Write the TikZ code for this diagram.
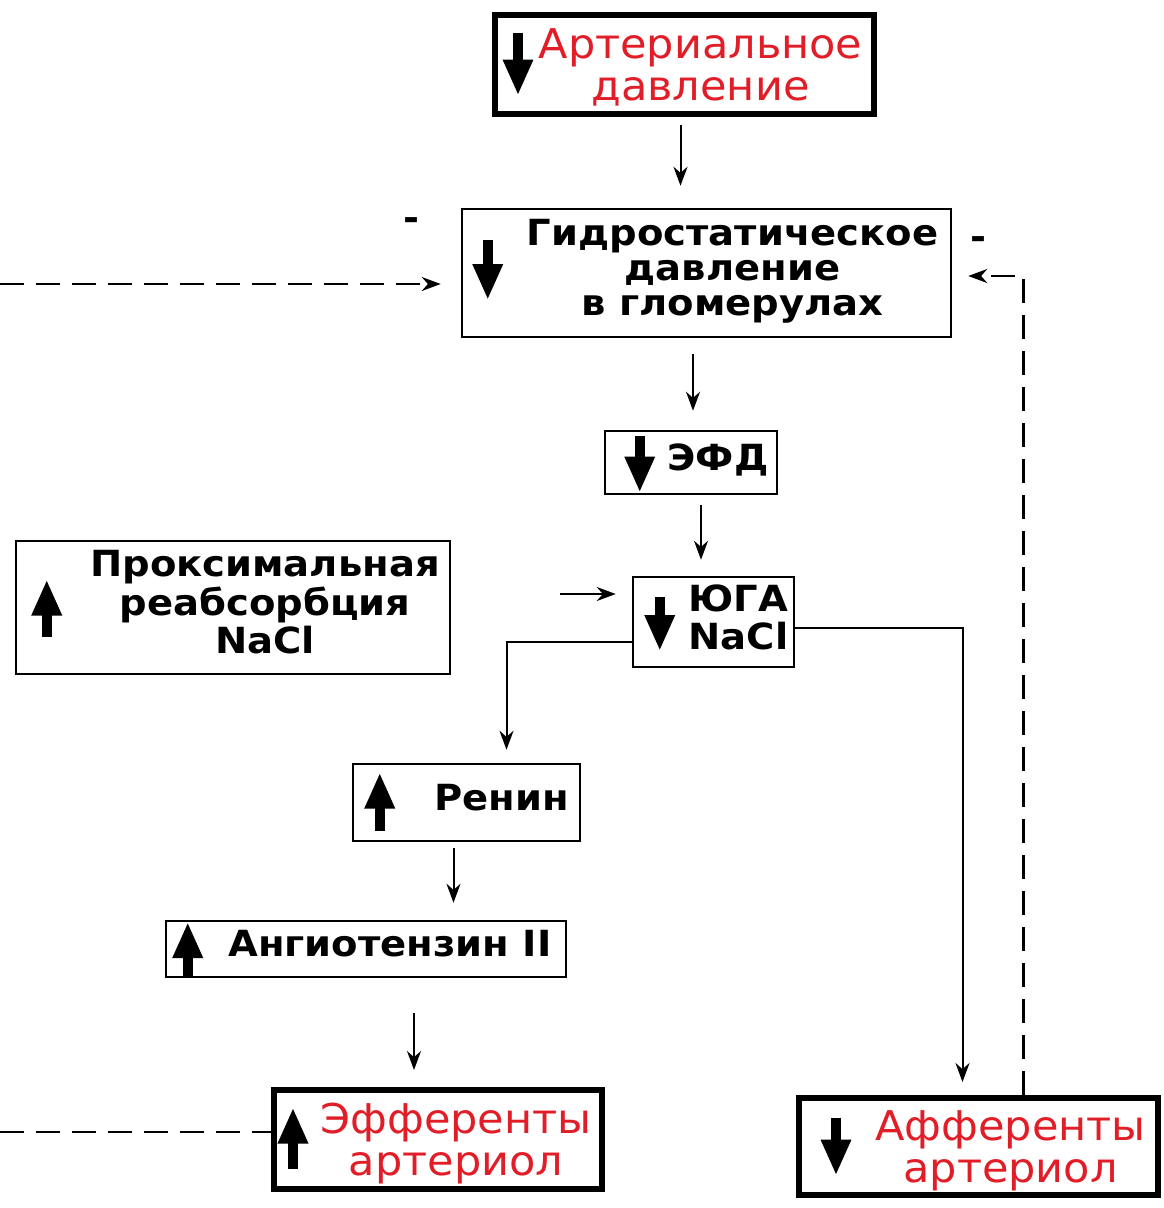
\documentclass[tikz,border=0pt]{standalone}
\usepackage{fontspec}
\setmainfont{DejaVu Sans}[FakeStretch=1.07]
\newfontfamily\redface{DejaVu Sans}[FakeStretch=1.05]
\usepackage{xcolor}
\usetikzlibrary{arrows.meta,positioning}
\definecolor{alarm}{RGB}{225,30,40}
\newcommand{\plainfont}{\fontsize{36}{35}\selectfont\bfseries}
\newcommand{\alarmfont}{\redface\fontsize{41}{42}\selectfont}
\newcommand{\shifted}[2]{\hspace*{#1}\begin{tabular}{@{}c@{}}#2\end{tabular}}
\newcommand{\redlines}[2]{\hspace*{#1}\raisebox{-6pt}[\height][\depth]{\begin{tabular}{@{}c@{}}#2\end{tabular}}}
\tikzset{
  box/.style={
    draw,
    line width=2.5pt,
    inner sep=0pt,
    font=\plainfont
  },
  redbox/.style={
    box,
    line width=6pt,
    text=alarm,
    font=\alarmfont
  },
  icon/.style={line width=10pt, -{Triangle[width=28pt,length=36pt]}},
  conn/.style={line width=2pt, -{Stealth[length=19pt,width=14pt]}},
  fb/.style={line width=2.5pt, dash pattern=on 24pt off 12pt},
  sign/.style={font=\plainfont, inner sep=0pt}
}

\begin{document}
\begin{tikzpicture}[x=1pt,y=-1pt]
  \useasboundingbox (0,0) rectangle (1163,1208);

  % boxes
  \node[redbox, minimum width=379pt, minimum height=99pt] (arter) at (684.5,64.5) {\redlines{32pt}{Артериальное\\давление}};
  \node[box, minimum width=489pt, minimum height=128pt] (hydro) at (706.5,273) {\shifted{52pt}{Гидростатическое\\давление\\в гломерулах}};
  \node[box, minimum width=172pt, minimum height=63pt] (efd) at (691,462.5) {\shifted{54pt}{ЭФД}};
  \node[box, minimum width=161pt, minimum height=90pt] (juga) at (713.5,622) {\shifted{50pt}{ЮГА\\NaCl}};
  \node[box, minimum width=434pt, minimum height=133pt] (prox) at (233,607.5) {\shifted{64pt}{Проксимальная\\реабсорбция\\NaCl}};
  \node[box, minimum width=227pt, minimum height=77pt] (renin) at (466.5,802.5) {\shifted{70pt}{Ренин}};
  \node[box, minimum width=400pt, minimum height=56pt] (angio) at (366,949) {\shifted{48pt}{Ангиотензин II}};
  \node[redbox, minimum width=328pt, minimum height=99pt] (effer) at (438,1139.5) {\redlines{36pt}{Эфференты\\артериол}};
  \node[redbox, minimum width=359pt, minimum height=97pt] (affer) at (978.5,1146.5) {\redlines{64pt}{Афференты\\артериол}};

  % up / down marks
  \draw[icon] ([xshift=26pt,yshift=32pt]arter.west) -- ([xshift=26pt,yshift=-31pt]arter.west);
  \draw[icon] ([xshift=27pt,yshift=33pt]hydro.west) -- ([xshift=27pt,yshift=-27pt]hydro.west);
  \draw[icon] ([xshift=36pt,yshift=27pt]efd.west) -- ([xshift=36pt,yshift=-30pt]efd.west);
  \draw[icon] ([xshift=28pt,yshift=25pt]juga.west) -- ([xshift=28pt,yshift=-29pt]juga.west);
  \draw[icon] ([xshift=32pt,yshift=-29pt]prox.west) -- ([xshift=32pt,yshift=28pt]prox.west);
  \draw[icon] ([xshift=28pt,yshift=-28pt]renin.west) -- ([xshift=28pt,yshift=30pt]renin.west);
  \draw[icon] ([xshift=23pt,yshift=-28pt]angio.west) -- ([xshift=23pt,yshift=27pt]angio.west);
  \draw[icon] ([xshift=22pt,yshift=-29pt]effer.west) -- ([xshift=22pt,yshift=32pt]effer.west);
  \draw[icon] ([xshift=40pt,yshift=29pt]affer.west) -- ([xshift=40pt,yshift=-29pt]affer.west);

  % signs
  \node[sign] (minusl) at (411,224) {-};
  \node[sign] (minusr) at (978,243) {-};

  % free ends
  \coordinate (jugain) at (560,594);
  \coordinate (fromleft) at (0,284);
  \coordinate (toleft) at (0,1132);

  % main chain
  \draw[conn, shorten <=8pt, shorten >=22pt] ([xshift=-4pt]arter.south) -- ([xshift=-4pt]arter.south |- hydro.north);
  \draw[conn, shorten <=16pt, shorten >=19pt] ([xshift=2pt]efd.north |- hydro.south) -- ([xshift=2pt]efd.north);
  \draw[conn, shorten <=10pt, shorten >=16pt] ([xshift=10pt]efd.south) -- ([xshift=10pt]efd.south |- juga.north);
  \draw[conn, shorten >=16pt] (jugain) -- (jugain -| juga.west);
  \draw[conn, shorten >=13pt] ([yshift=-20pt]juga.west) -| ([xshift=40pt]renin.north);
  \draw[conn, shorten >=13pt] ([yshift=-6pt]juga.east) -| ([xshift=-16pt]affer.north);
  \draw[conn, shorten <=6pt, shorten >=17pt] ([xshift=-13pt]renin.south) -- ([xshift=-13pt]renin.south |- angio.north);
  \draw[conn, shorten <=35pt, shorten >=17pt] ([xshift=48pt]angio.south) -- ([xshift=48pt]angio.south |- effer.north);

  % feedback
  \draw[fb, -{Stealth[length=19pt,width=14pt]}, shorten >=20pt] (fromleft) -- (fromleft -| hydro.west);
  \draw[fb] (toleft) -- (toleft -| effer.west);
  \draw[fb, -{Stealth[length=19pt,width=14pt]}, shorten >=16pt] ([xshift=45pt]affer.north) |- ([yshift=-3pt]hydro.east);
\end{tikzpicture}
\end{document}
